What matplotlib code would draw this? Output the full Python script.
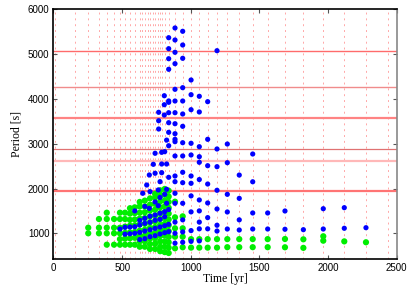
import matplotlib.pyplot as plt

# snapshot times [yr] where the full spectrum (red dots) was computed
times = [11, 157, 253, 331, 388, 441, 484, 521, 557, 592, 628, 647, 665, 685,
         703, 727, 740, 760, 777, 792, 810, 839, 885, 941, 1002, 1062, 1123,
         1191, 1266, 1353, 1451, 1560, 1686, 1820, 1965, 2118, 2276, 2437]

# observed periods [s] (horizontal lines) and their colours / widths
obs_p = [5076, 4259, 3580, 2875, 2614, 1951]
obs_c = ['#ff6b6b', '#f08c8c', '#ff8383', '#e07272', '#ffb8b8', '#ff7474']
obs_w = [1.0, 1.0, 1.6, 0.9, 1.6, 1.6]

# blue modes, per snapshot time
blue = {
    484: [1096],
    521: [980, 1134],
    557: [990, 1140],
    592: [1000, 1147, 1500],
    628: [860, 1020, 1185, 1290],
    650: [1893],
    665: [880, 1050, 1223, 1335, 1600],
    679: [2078],
    698: [1558, 2302],
    703: [924, 1080, 1246, 1380, 1930],
    727: [2540],
    740: [947, 1110, 1290, 1408, 1700, 2340, 2786],
    763: [1616, 1967],
    776: [984, 1140, 1312, 1447, 1800, 2152],
    788: [2353, 2547, 2808],
    810: [1013, 1170, 1370, 1482, 1870, 2822],
    824: [1670, 1982, 2547, 3080],
    766: [3328, 3513, 3701],
    807: [3640, 3870, 4071],
    839: [1036, 1200, 1530, 2250, 2955, 3254, 3469, 3692, 3924, 3954,
          4661, 4897, 5121, 5366],
    885: [780, 1000, 1250, 1670, 1893, 2152, 2279, 2726, 3045, 3098,
          3223, 3446, 3692, 3953, 4214, 4786, 5040, 5315, 5583],
    941: [800, 1030, 1300, 1670, 2130, 2362, 2726, 3022, 3388, 3663,
          3953, 4250, 4906, 5203, 5509],
    1002: [820, 1060, 1478, 1835, 2116, 2279, 2748, 3009, 3759, 4094, 4422],
    1062: [830, 1100, 1250, 1500, 1744, 2200, 2585, 2710, 2933, 3708, 4058],
    1123: [1100, 1350, 1677, 2100, 2509, 3098, 3938],
    1191: [1050, 1180, 1543, 1960, 2487, 2882, 5076],
    1266: [1096, 1476, 1870, 2576, 2993],
    1353: [1074, 1300, 1780, 2300],
    1451: [1096, 1454, 2150, 2770],
    1560: [1096, 1454],
    1686: [1090, 1498],
    1820: [1081],
    1965: [1096, 1549],
    2118: [1112, 1572],
    2276: [1125],
}

# green modes, per snapshot time
green = {
    253: [1000, 1125],
    331: [1000, 1125, 1319],
    388: [746, 1000, 1125, 1319, 1460],
    441: [746, 1000, 1125, 1319],
    484: [746, 870, 1000, 1125, 1319, 1460],
    521: [746, 880, 1010, 1150, 1319, 1460],
    557: [746, 890, 1020, 1170, 1300, 1440, 1560],
    592: [746, 900, 1030, 1180, 1310, 1450, 1580],
    628: [700, 820, 940, 1060, 1200, 1330, 1460, 1600, 1700],
    665: [700, 820, 950, 1080, 1210, 1340, 1470, 1600, 1730],
    703: [650, 760, 880, 1000, 1120, 1250, 1380, 1510, 1640, 1780],
    740: [650, 770, 890, 1010, 1140, 1270, 1400, 1530, 1660, 1800, 1880],
    777: [600, 700, 820, 940, 1060, 1190, 1320, 1450, 1580, 1710, 1840, 1960],
    810: [580, 700, 820, 950, 1080, 1210, 1340, 1470, 1600, 1730, 1860, 1990],
    839: [560, 680, 800, 920, 1050, 1180, 1310, 1440, 1570, 1700, 1820, 1950],
    885: [665, 924, 1112, 1357, 1706],
    941: [688, 924, 1112, 1379],
    1002: [680, 870],
    1062: [680, 870],
    1123: [680, 870],
    1191: [680, 870],
    1266: [690, 870],
    1353: [690, 870],
    1451: [690, 870],
    1560: [690, 870],
    1686: [688, 873],
    1820: [675, 866],
    1965: [835, 934],
    2118: [820],
    2276: [800],
}

blue_t = [t for t, ps in blue.items() for p in ps]
blue_p = [p for t, ps in blue.items() for p in ps]
green_t = [t for t, ps in green.items() for p in ps]
green_p = [p for t, ps in green.items() for p in ps]

plt.rcParams['font.family'] = ['Liberation Serif', 'DejaVu Serif']

fig = plt.figure(figsize=(4.09, 2.86), dpi=100)
ax = fig.add_axes([0.1308, 0.0934, 0.8392, 0.8741])

ax.vlines(times, 420, 6000, colors='#ff5f5f', linestyles=(0, (2, 4)),
          linewidth=0.7, alpha=0.55, zorder=1)
ax.hlines(obs_p, 0, 2500, colors=obs_c, linewidths=obs_w, zorder=2)

ax.scatter(green_t, green_p, s=20, color='#00ee00', edgecolors='none', zorder=3)
ax.scatter(blue_t, blue_p, s=14, color='#0000ff', edgecolors='none', zorder=4)

ax.set_xlim(0, 2500)
ax.set_ylim(420, 6000)
ax.set_xticks([0, 500, 1000, 1500, 2000, 2500])
ax.set_yticks([1000, 2000, 3000, 4000, 5000, 6000])
ax.tick_params(direction='in', length=3, labelsize=7, top=True, right=True,
               color='#555555', pad=3)
for lab in ax.get_xticklabels() + ax.get_yticklabels():
    lab.set_family('Liberation Sans')
ax.set_xlabel('Time [yr]', fontsize=8.5, labelpad=0)
ax.set_ylabel('Period [s]', fontsize=8.5, labelpad=4)
for s in ax.spines.values():
    s.set_linewidth(1.2)
ax.spines['right'].set_color('#888888')

fig.savefig('out.png', dpi=100)
